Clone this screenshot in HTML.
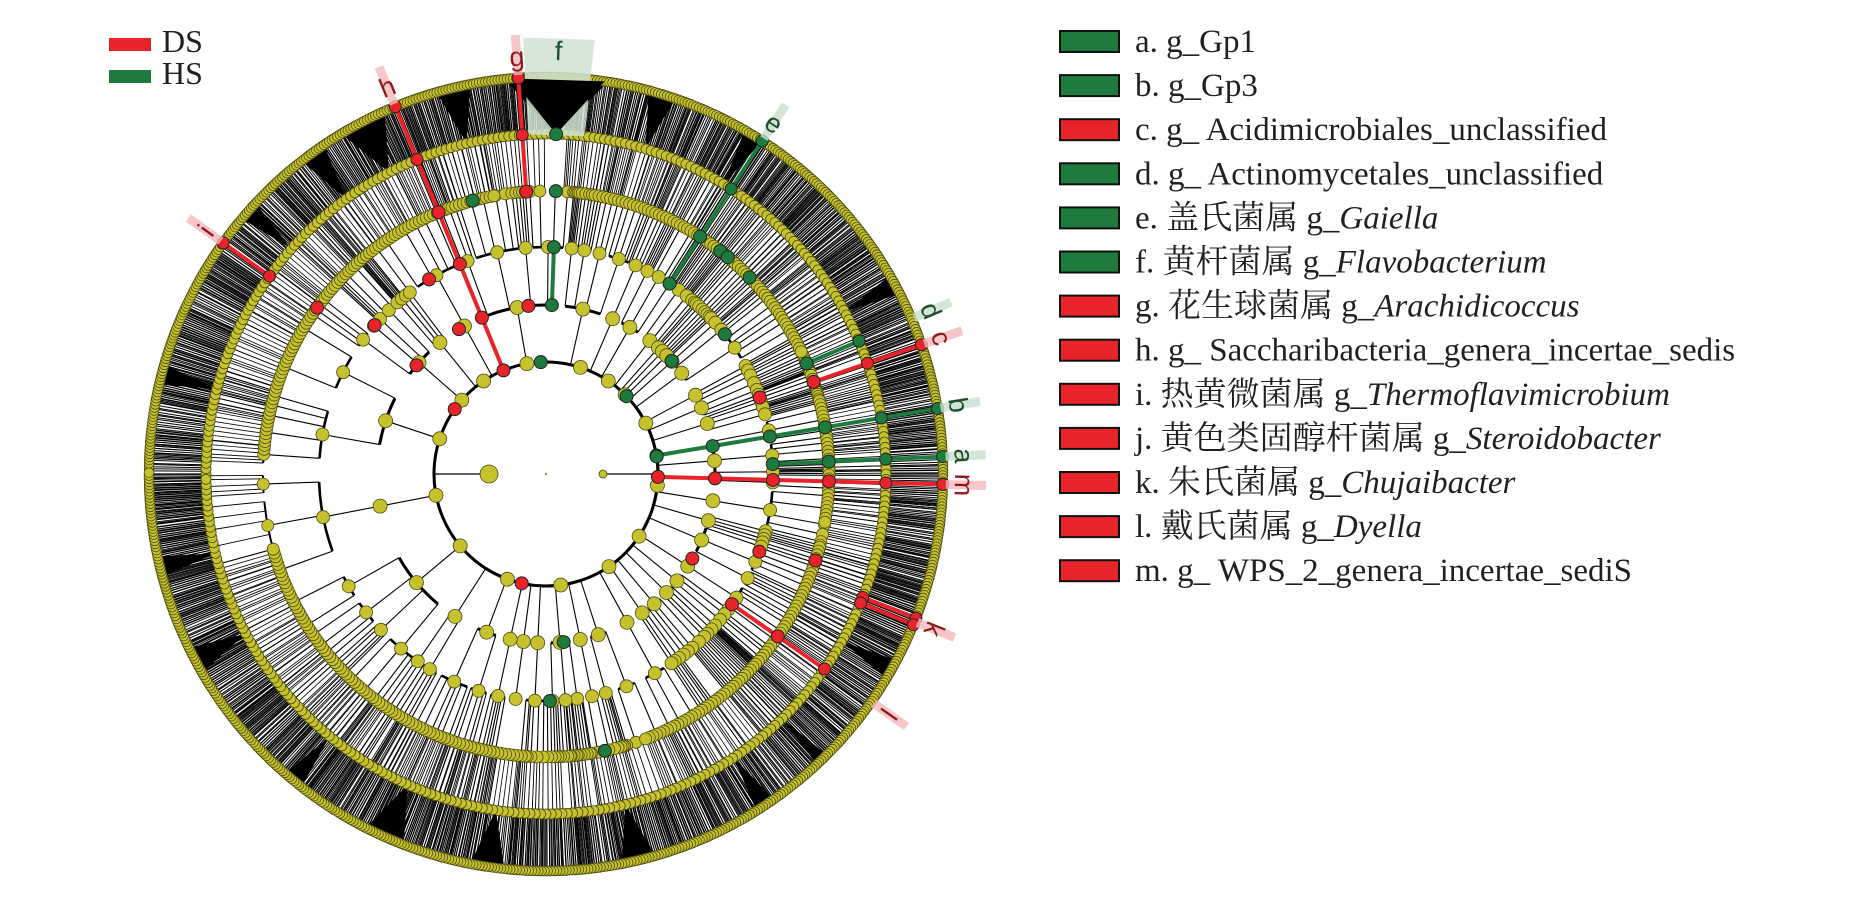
<!DOCTYPE html>
<html><head><meta charset="utf-8">
<style>
html,body{margin:0;padding:0;background:#fff;}
body{width:1850px;height:924px;position:relative;overflow:hidden;}
svg{position:absolute;left:0;top:0;}
.lg{font-family:"Liberation Serif","Noto Serif CJK SC","Noto Sans CJK SC",serif;font-size:33px;fill:#231f20;}
.lab{font-family:"Liberation Sans","DejaVu Sans",sans-serif;font-size:27px;}
</style></head>
<body>
<svg id="s" width="1850" height="924" viewBox="0 0 1850 924" xmlns="http://www.w3.org/2000/svg">
<g id="bg"></g><g id="lines"></g><g id="nodes"></g><g id="hl"></g><g id="labs"></g>
<rect x="109" y="38" width="42" height="13" fill="#e8232a"/>
<rect x="109" y="70" width="42" height="13" fill="#1e7b3e"/>
<text x="162" y="52" class="lg" style="font-size:32px">DS</text>
<text x="162" y="84" class="lg" style="font-size:32px">HS</text>
<g id="legend"></g>
</svg>
<script>
(function(){
var NS="http://www.w3.org/2000/svg";
var cx=546,cy=474;
var R=[0,57,112,169,227,283,340,397];
function el(p,t,a){var e=document.createElementNS(NS,t);for(var k in a)e.setAttribute(k,a[k]);document.getElementById(p).appendChild(e);return e;}
function P(r,d){var a=d*Math.PI/180;return [cx+r*Math.cos(a),cy+r*Math.sin(a)];}
var seed=12345;function rnd(){seed|=0;seed=seed+0x6D2B79F5|0;var t=Math.imul(seed^seed>>>15,1|seed);t=t+Math.imul(t^t>>>7,61|t)^t;return((t^t>>>14)>>>0)/4294967296;}
function ri(a,b){return a+Math.floor(rnd()*(b-a+1));}
var L=[],N=[],A=[];
function line(r1,r2,d,w,c){var p=P(r1,d),q=P(r2,d);L.push([p,q,w,c||"#000"]);}
function arc(r,a0,a1,w){if(a1-a0<0.05)return;var p=P(r,a0),q=P(r,a1);A.push(["M"+p[0].toFixed(1)+" "+p[1].toFixed(1)+" A"+r+" "+r+" 0 "+((a1-a0)>180?1:0)+" 1 "+q[0].toFixed(1)+" "+q[1].toFixed(1),w]);}
var NR=[0,9,7,7,6.5,6,5,4.8];
function build(lv,a0,a1){
  var node={lv:lv,kids:[]};
  var span=a1-a0;
  if(lv==7){node.ang=(a0+a1)/2;return node;}
  if(lv>=4 && rnd()<0.08){node.ang=(a0+a1)/2;return node;}
  var k;
  if(lv==6){k=Math.max(1,Math.round(span*3.1));var st=span/k;for(var i=0;i<k;i++)node.kids.push({lv:7,kids:[],ang:a0+(i+0.5)*st});}
  else{
    k= lv==2?ri(1,4): lv==3?ri(1,4): lv==4?ri(2,6): ri(2,5);
    if(span<1.2)k=1;
    var w=[],s=0;for(var i=0;i<k;i++){var x=0.3+rnd()*1.4;w.push(x);s+=x;}
    var c=a0;for(var i=0;i<k;i++){var e=c+span*w[i]/s;node.kids.push(build(lv+1,c,e));c=e;}
  }
  node.ang=(node.kids[0].ang+node.kids[node.kids.length-1].ang)/2;
  return node;
}
function draw(n){
  if(n.kids.length){
    var f=n.kids[0].ang,l=n.kids[n.kids.length-1].ang;
    var w= n.lv<=3?3: n.lv==4?2.6: n.lv==5?2:1.2;
    arc(R[n.lv],Math.min(f,n.ang),Math.max(l,n.ang),w);
    for(var i=0;i<n.kids.length;i++){line(R[n.lv],R[n.lv+1],n.kids[i].ang,n.lv>=5?0.9:1.1);draw(n.kids[i]);}
  }
  N.push([n.lv,n.ang]);
}
var np=15,w=[],s=0;for(var i=0;i<np;i++){var x=0.4+rnd()*1.6;w.push(x);s+=x;}
var c=-178;
for(var i=0;i<np;i++){var e=c+358*w[i]/s;var t=build(2,c,e);draw(t);c=e;}
for(var a=-180;a<180;a+=0.3){line(340,397,a+rnd()*0.2,1.0);}
for(var a=-180;a<180;a+=0.45){N.push([7,a+0.2]);}
for(var a=-180;a<180;a+=0.9){N.push([6,a]);}
[[-175,-100],[-80,-25],[-15,10],[15,70],[95,165]].forEach(function(q){for(var a=q[0];a<q[1];a+=0.8){line(283,340,a,0.8);N.push([5,a]);}arc(283,q[0],q[1],2);});
el("bg","circle",{cx:cx,cy:cy,r:112,fill:"none",stroke:"#000","stroke-width":3});
line(57,112,180,1.3);line(57,112,0,1.3);
var wd=[[-96,-81],[-121,-114],[-106,-101],[-128,-124],[111,117],[96,101],[74,79],[150,154],[165,168],[-167,-164],[28,31],[-30,-27],[-60,-57],[-75,-71],[-140,-137],[128,131],[55,58],[45,47]];
wd.forEach(function(q){var a=P(340,(q[0]+q[1])/2),b=P(397,q[0]),d=P(397,q[1]);el("bg","polygon",{points:a.join(",")+" "+b.join(",")+" "+d.join(","),fill:"#000"});});
A.forEach(function(a){el("lines","path",{d:a[0],fill:"none",stroke:"#000","stroke-width":a[1]});});
L.forEach(function(l){el("lines","line",{x1:l[0][0].toFixed(1),y1:l[0][1].toFixed(1),x2:l[1][0].toFixed(1),y2:l[1][1].toFixed(1),stroke:l[3],"stroke-width":l[2]});});
N.sort(function(a,b){return b[0]-a[0];});
N.forEach(function(n){var p=P(R[n[0]],n[1]);el("nodes","circle",{cx:p[0].toFixed(1),cy:p[1].toFixed(1),r:NR[n[0]],fill:"#c6c22e",stroke:"#4d4b10","stroke-width":0.8});});
var p=P(57,180);el("nodes","circle",{cx:p[0],cy:p[1],r:9,fill:"#c6c22e",stroke:"#4d4b10","stroke-width":0.8});
p=P(57,0);el("nodes","circle",{cx:p[0],cy:p[1],r:4,fill:"#c6c22e",stroke:"#4d4b10","stroke-width":0.8});
el("nodes","circle",{cx:cx,cy:cy,r:1.2,fill:"#9a9a20"});
var RED="#e8232a",GRN="#1e7b3e";
(function(){var a=P(340,-93),b=P(437,-93),c2=P(437,-83.6),d=P(340,-83.6);el("hl","polygon",{points:[a,b,c2,d].map(function(x){return x.join(",")}).join(" "),fill:"#cfe3d3",opacity:0.85});
var q=P(340,-88.3),b2=P(397,-95),d2=P(397,-81.5);el("hl","polygon",{points:q.join(",")+" "+b2.join(",")+" "+d2.join(","),fill:"#000"});})();
function hl(col,ang,lvs,lw){
  var r1=R[lvs[0]],r2=R[lvs[lvs.length-1]];
  var p=P(r1,ang),q=P(r2,ang);
  el("hl","line",{x1:p[0],y1:p[1],x2:q[0],y2:q[1],stroke:col,"stroke-width":lw||4});
  lvs.forEach(function(l){var z=P(R[l],ang);el("hl","circle",{cx:z[0],cy:z[1],r:l>=6?6:6.5,fill:col,stroke:"#222","stroke-width":1});});
}
hl(GRN,-2.5,[4,5,6,7]);
hl(GRN,-9.5,[2,3,4,5,6,7]);
hl(RED,1.5,[2,3,4,5,6,7]);
hl(RED,-19,[5,6,7]);
hl(GRN,-23,[5,6]);
hl(GRN,-57,[4,5,6,7]);
hl(GRN,-88,[3,4]);
(function(){var z=P(283,-88);el("hl","circle",{cx:z[0],cy:z[1],r:6.5,fill:GRN,stroke:"#222"});z=P(340,-88.3);el("hl","circle",{cx:z[0],cy:z[1],r:6.5,fill:GRN,stroke:"#222"});z=P(112,-92.7);el("hl","circle",{cx:z[0],cy:z[1],r:6.5,fill:GRN,stroke:"#222"});})();
hl(RED,-94,[5,6,7]);
hl(RED,-112.3,[2,3,4,5,6,7]);
hl(RED,-144.4,[6,7]);
hl(RED,35,[4,5,6]);
hl(RED,21.3,[6,7]);hl(RED,22.3,[6,7]);
[[RED,2,-144.6],[RED,3,-140],[RED,4,-139],[RED,5,-144],[RED,2,102.5],[RED,3,30],[RED,4,20],[RED,5,17.8],[RED,4,-19.7],[RED,4,-121],[RED,3,-121],[RED,3,-96],
 [GRN,2,-44],[GRN,2,-9],[GRN,3,-42],[GRN,4,-38],[GRN,5,-105],[GRN,3,84],[GRN,4,89],[GRN,5,78],[GRN,5,-44],[GRN,5,-52],[GRN,5,-50]].forEach(function(q){var z=P(R[q[1]],q[2]);el("hl","circle",{cx:z[0],cy:z[1],r:6.5,fill:q[0],stroke:"#222","stroke-width":1});});
var labs=[["a",-2.5,GRN],["b",-9.5,GRN],["c",-19,RED],["d",-23,GRN],["e",-57,GRN],["f",-88.3,GRN],["g",-94,RED],["h",-112.3,RED],["i",-144.4,RED],["k",21.8,RED],["l",35,RED],["m",1.5,RED]];
labs.forEach(function(q){
  var col=q[2]==RED?"#8e1a1c":"#1d4f2c";
  var sh=q[2]==RED?"#f4b9bb":"#c8dfcc";
  if(q[0]!="f"){var a=P(400,q[1]),b=P(440,q[1]);el("labs","line",{x1:a[0],y1:a[1],x2:b[0],y2:b[1],stroke:sh,"stroke-width":9,opacity:0.8});}
  var z=P(q[0]=="f"?423:418,q[1]);
  var t=el("labs","text",{x:z[0],y:z[1],"text-anchor":"middle","dominant-baseline":"central",class:"lab",fill:col,transform:"rotate("+(q[1]+90)+" "+z[0]+" "+z[1]+")"});
  t.textContent=q[0];
});
var items=[[GRN,"a. g_Gp1",""],[GRN,"b. g_Gp3",""],[RED,"c. g_ Acidimicrobiales_unclassified",""],[GRN,"d. g_ Actinomycetales_unclassified",""],
[GRN,"e. 盖氏菌属 g_","Gaiella"],[GRN,"f. 黄杆菌属 g_","Flavobacterium"],[RED,"g. 花生球菌属 g_","Arachidicoccus"],[RED,"h. g_ Saccharibacteria_genera_incertae_sedis",""],
[RED,"i. 热黄微菌属 g_","Thermoflavimicrobium"],[RED,"j. 黄色类固醇杆菌属 g_","Steroidobacter"],[RED,"k. 朱氏菌属 g_","Chujaibacter"],[RED,"l. 戴氏菌属 g_","Dyella"],[RED,"m. g_ WPS_2_genera_incertae_sediS",""]];
items.forEach(function(it,i){
  var y=31+i*44.1;
  el("legend","rect",{x:1060,y:y,width:59,height:21,fill:it[0],stroke:"#111","stroke-width":2});
  var t=el("legend","text",{x:1135,y:y+21,class:"lg"});
  t.appendChild(document.createTextNode(it[1]));
  if(it[2]){var ts=document.createElementNS(NS,"tspan");ts.setAttribute("font-style","italic");ts.textContent=it[2];t.appendChild(ts);}
});
})();
</script>
</body></html>
